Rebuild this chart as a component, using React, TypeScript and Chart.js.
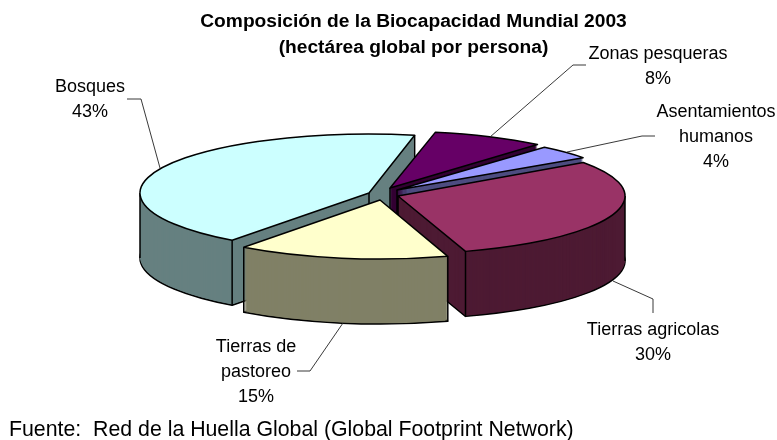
import React, { useEffect, useRef } from "react";
import { Chart, registerables } from "chart.js";

Chart.register(...registerables);

const FONT = '"Liberation Sans", Arial, sans-serif';

const categories = ["Zonas pesqueras", "Asentamientos humanos", "Tierras agricolas", "Tierras de pastoreo", "Bosques"];
const values = [8, 4, 30, 15, 43];
const topColors = ["#660066", "#9999FF", "#993366", "#FFFFCC", "#CCFFFF"];
const wallColors = ["#330033", "#4D4D80", "#4D1A33", "#808066", "#668080"];
const titleLines = ["Composición de la Biocapacidad Mundial 2003", "(hectárea global por persona)"];
const sourceNote = "Fuente:  Red de la Huella Global (Global Footprint Network)";

// 3D view of each exploded slice
const apexX = [390, 397, 398, 380, 369];
const apexY = [188, 190, 196, 200, 193];
const radiusX = [228, 228, 227, 228, 229];
const radiusY = [57, 56, 58, 59, 59];
const depth = 65;
const drawOrder = [4, 0, 1, 2, 3];
const edgeApex = [true, true, true, false, true];
const edgeStart = [false, false, false, true, true];
const edgeEnd = [false, false, true, true, true];

// labels
const labelLines = [["Zonas pesqueras"], ["Asentamientos", "humanos"], ["Tierras agricolas"], ["Tierras de", "pastoreo"], ["Bosques"]];
const labelX = [658, 716, 653, 256, 90];
const labelY = [54, 112, 330, 347, 87];
const leaders = [
  [[586, 65], [573, 65], [490, 137]],
  [[655, 136], [642, 136], [567, 152]],
  [[653, 313], [653, 299], [613, 281]],
  [[297, 371], [310, 371], [343, 323]],
  [[127, 99], [141, 99], [160, 168]],
];

const pie3d = {
  id: "pie3d",
  beforeDatasetDraw() {
    return false;
  },
  afterDatasetsDraw(chart: any) {
    const ctx = chart.ctx;
    const arcs = chart.getDatasetMeta(0).data;
    const place = (arc: any, i: number, dy: number) => {
      ctx.translate(apexX[i], apexY[i] + dy);
      ctx.scale(radiusX[i] / arc.outerRadius, radiusY[i] / arc.outerRadius);
      ctx.translate(-arc.x, -arc.y);
    };
    const fillArc = (arc: any, i: number, dy: number, color: string) => {
      const saved = arc.options;
      arc.options = { ...saved, backgroundColor: color, borderWidth: 0 };
      ctx.save();
      place(arc, i, dy);
      arc.draw(ctx);
      ctx.restore();
      arc.options = saved;
    };
    const strokeArc = (arc: any, i: number, dy: number) => {
      ctx.save();
      place(arc, i, dy);
      ctx.beginPath();
      ctx.moveTo(arc.x, arc.y);
      ctx.arc(arc.x, arc.y, arc.outerRadius, arc.startAngle, arc.endAngle);
      ctx.closePath();
      ctx.restore();
      ctx.lineJoin = "round";
      ctx.lineWidth = 1.5;
      ctx.strokeStyle = "#000";
      ctx.stroke();
    };
    const vertical = (x: number, y: number) => {
      ctx.beginPath();
      ctx.moveTo(x, y);
      ctx.lineTo(x, y + depth);
      ctx.lineWidth = 1.5;
      ctx.strokeStyle = "#000";
      ctx.stroke();
    };
    for (const i of drawOrder) {
      const arc = arcs[i];
      fillArc(arc, i, depth, wallColors[i]);
      strokeArc(arc, i, depth);
      for (let d = depth - 1; d >= 0; d--) fillArc(arc, i, d, wallColors[i]);
      const at = (a: number) => [apexX[i] + radiusX[i] * Math.cos(a), apexY[i] + radiusY[i] * Math.sin(a)];
      if (edgeApex[i]) vertical(apexX[i], apexY[i]);
      if (edgeStart[i]) vertical(at(arc.startAngle)[0], at(arc.startAngle)[1]);
      if (edgeEnd[i]) vertical(at(arc.endAngle)[0], at(arc.endAngle)[1]);
      for (let k = -2; k <= 4; k++) {
        const a = k * Math.PI;
        if (a > arc.startAngle && a < arc.endAngle) vertical(at(a)[0], at(a)[1]);
      }
      fillArc(arc, i, 0, topColors[i]);
      strokeArc(arc, i, 0);
    }

    // leader lines
    ctx.lineWidth = 0.9;
    ctx.strokeStyle = "#222";
    for (const pts of leaders) {
      ctx.beginPath();
      pts.forEach((p, n) => (n ? ctx.lineTo(p[0], p[1]) : ctx.moveTo(p[0], p[1])));
      ctx.stroke();
    }

    // labels
    ctx.fillStyle = "#000";
    ctx.font = `18px ${FONT}`;
    ctx.textAlign = "center";
    ctx.textBaseline = "middle";
    categories.forEach((_, i) => {
      const lines = [...labelLines[i], `${values[i]}%`];
      lines.forEach((t, n) => ctx.fillText(t, labelX[i], labelY[i] + n * 25));
    });
    ctx.textAlign = "left";
    ctx.font = `21.3px ${FONT}`;
    ctx.fillText(sourceNote, 9, 430);
  },
};

export default function App() {
  const ref = useRef<HTMLCanvasElement | null>(null);
  useEffect(() => {
    const chart = new Chart(ref.current as HTMLCanvasElement, {
      type: "pie",
      data: {
        labels: categories,
        datasets: [{ data: values, backgroundColor: topColors, borderColor: "#000", borderWidth: 1 }],
      },
      options: {
        animation: false,
        responsive: false,
        rotation: 11.5,
        radius: 228,
        layout: { padding: { left: 50 } },
        plugins: {
          legend: { display: false },
          tooltip: { enabled: false },
          title: {
            display: true,
            text: titleLines,
            color: "#000",
            font: { family: FONT, size: 19.2, weight: "bold", lineHeight: 1.354 },
            padding: { top: 9, bottom: 0 },
          },
        },
      },
      plugins: [pie3d],
    } as any);
    return () => chart.destroy();
  }, []);
  return (
    <div style={{ position: "absolute", left: 0, top: 0, width: 777, height: 440, background: "#fff" }}>
      <canvas ref={ref} width={777} height={440} style={{ display: "block" }} />
    </div>
  );
}
